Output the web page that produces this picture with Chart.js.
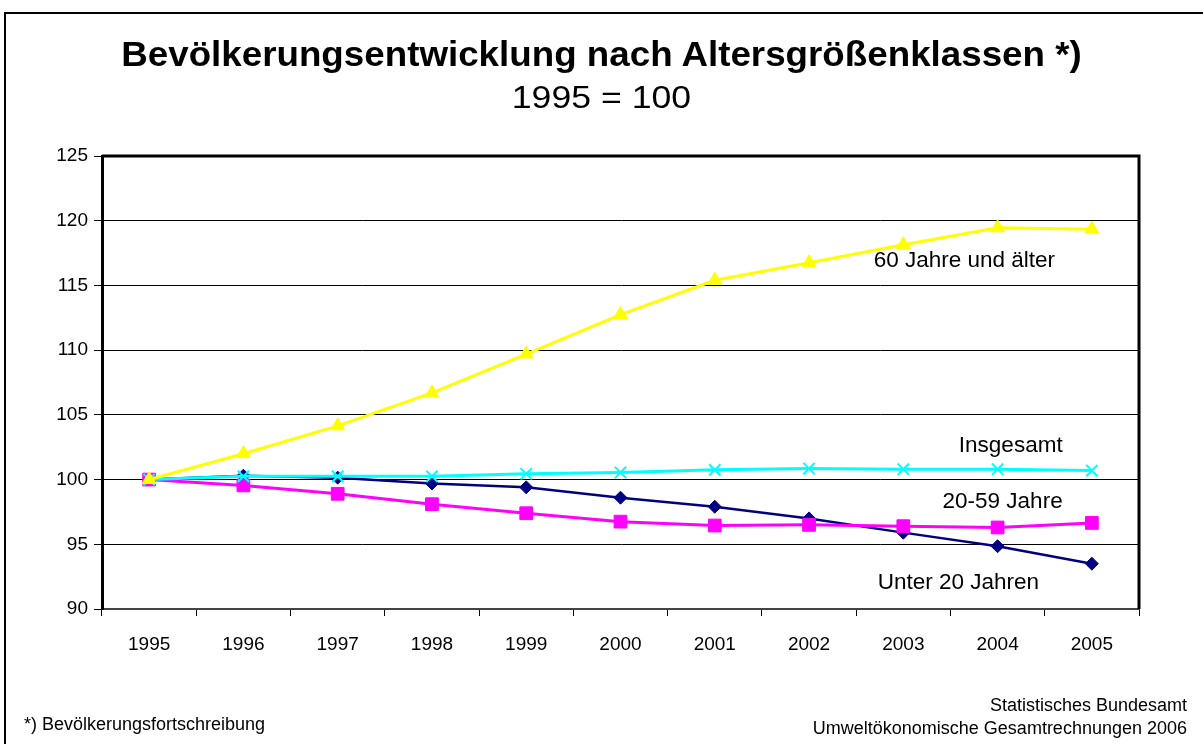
<!DOCTYPE html>
<html lang="de">
<head>
<meta charset="utf-8">
<script src="https://cdn.jsdelivr.net/npm/chart.js@4"></script>
<style>
  html, body { margin: 0; padding: 0; background: #fff; }
  body { width: 1203px; height: 744px; position: relative; overflow: hidden; font-family: "Liberation Sans", Arial, sans-serif; }
  #frame { position: absolute; left: 4px; top: 12px; width: 1300px; height: 900px; border: 2px solid #000; }
  #wrap { position: absolute; left: 0; top: 0; width: 1203px; height: 744px; }
  .txt { position: absolute; color: #000; white-space: nowrap; }
  #title { left: 0; width: 1203px; top: 36px; text-align: center; font-weight: bold; font-size: 35px; line-height: 35px; transform: scaleX(1.05); }
  #sub { left: 0; width: 1203px; top: 82px; text-align: center; font-size: 31px; line-height: 31px; transform: scaleX(1.15); }
  #note { left: 24px; top: 715px; font-size: 18px; line-height: 18px; }
  #src { right: 16px; top: 694px; text-align: right; font-size: 18px; line-height: 23.3px; }
</style>
</head>
<body>
<div id="frame"></div>
<div id="wrap"><canvas id="chart" width="1203" height="744"></canvas></div>
<div class="txt" id="title">Bevölkerungsentwicklung nach Altersgrößenklassen *)</div>
<div class="txt" id="sub">1995 = 100</div>
<div class="txt" id="note">*) Bevölkerungsfortschreibung</div>
<div class="txt" id="src">Statistisches Bundesamt<br>Umweltökonomische Gesamtrechnungen 2006</div>
<script>
const years = ['1995', '1996', '1997', '1998', '1999', '2000', '2001', '2002', '2003', '2004', '2005'];
const unter20 = [100, 100.3, 100.15, 99.7, 99.4, 98.6, 97.9, 97.0, 95.9, 94.85, 93.5];
const jahre20bis59 = [100, 99.55, 98.9, 98.1, 97.4, 96.75, 96.45, 96.5, 96.4, 96.3, 96.65];
const ab60 = [100, 102.0, 104.15, 106.7, 109.7, 112.75, 115.4, 116.75, 118.15, 119.45, 119.35];
const insgesamt = [100, 100.25, 100.25, 100.25, 100.45, 100.55, 100.75, 100.85, 100.8, 100.8, 100.7];

// series labels inside the plot: text, right edge (category index), baseline value
const seriesLabels = ['60 Jahre und älter', 'Insgesamt', '20-59 Jahre', 'Unter 20 Jahren'];
const labelIndex = [9.61, 9.69, 9.69, 9.44];
const labelValue = [116.41, 102.11, 97.78, 91.55];

const font = "'Liberation Sans', Arial, sans-serif";

// top and right border of the plot area + series labels
const plotExtras = {
  id: 'plotExtras',
  afterDatasetsDraw(chart) {
    const { ctx, chartArea: a, scales } = chart;
    ctx.save();
    ctx.strokeStyle = '#000';
    ctx.lineWidth = 3;
    ctx.beginPath();
    ctx.moveTo(a.left, a.top);
    ctx.lineTo(a.right, a.top);
    ctx.lineTo(a.right, a.bottom);
    ctx.stroke();
    ctx.fillStyle = '#000';
    ctx.font = '22.5px ' + font;
    ctx.textAlign = 'right';
    ctx.textBaseline = 'alphabetic';
    seriesLabels.forEach((t, i) => {
      ctx.fillText(t, scales.x.getPixelForValue(labelIndex[i]), scales.y.getPixelForValue(labelValue[i]));
    });
    ctx.restore();
  }
};

function ds(label, data, color, style, radius, width) {
  return {
    label, data,
    borderColor: color, backgroundColor: color,
    pointBackgroundColor: color, pointBorderColor: color,
    pointStyle: style, pointRadius: radius, pointHoverRadius: radius,
    pointBorderWidth: style === 'crossRot' ? 2 : 1,
    borderWidth: width, tension: 0, fill: false
  };
}

new Chart(document.getElementById('chart'), {
  type: 'line',
  data: {
    labels: years,
    datasets: [
      ds('60 Jahre und älter', ab60, '#FFFF00', 'triangle', 8, 3),
      ds('Insgesamt', insgesamt, '#00FFFF', 'crossRot', 8, 3),
      ds('20-59 Jahre', jahre20bis59, '#FF00FF', 'rect', 9, 3),
      ds('Unter 20 Jahren', unter20, '#000080', 'rectRot', 6.5, 2.5)
    ]
  },
  options: {
    responsive: false,
    animation: false,
    layout: { padding: { left: 0, top: 156, right: 64, bottom: 0 } },
    plugins: { legend: { display: false }, tooltip: { enabled: false }, title: { display: false } },
    scales: {
      x: {
        offset: true,
        grid: { offset: true, drawOnChartArea: false, drawTicks: true, tickLength: 7, color: '#000', tickColor: '#000' },
        border: { color: '#444', width: 2 },
        ticks: { color: '#000', font: { family: font, size: 19 }, padding: 17, maxRotation: 0 },
        afterFit(s) { s.height = 135; }
      },
      y: {
        min: 90, max: 125,
        ticks: { stepSize: 5, color: '#000', font: { family: font, size: 19 }, padding: 6 },
        grid: { color: '#000', lineWidth: 1, tickLength: 8, tickColor: '#000' },
        border: { color: '#000', width: 3 },
        afterFit(s) { s.width = 102; }
      }
    }
  },
  plugins: [plotExtras]
});
</script>
</body>
</html>
